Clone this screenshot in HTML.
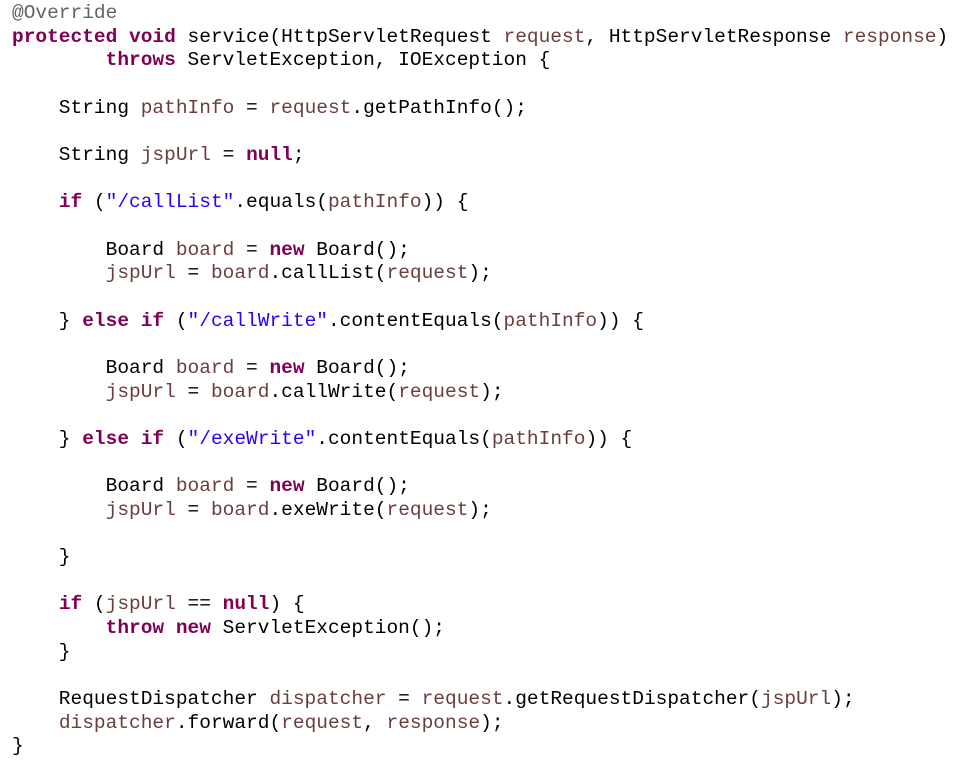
<!DOCTYPE html>
<html><head><meta charset="utf-8"><style>
html,body{margin:0;padding:0;background:#fff;width:960px;height:779px;overflow:hidden}
pre{margin:0;position:absolute;left:12px;top:2px;font-family:"Liberation Mono",monospace;font-size:19.5px;line-height:23.65px;color:#000}
.k{color:#7f0055;font-weight:bold}
.v{color:#6a3e3e}
.s{color:#2a00ff}
.a{color:#646464}
</style></head><body><pre><span class="a">@Override</span>
<span class="k">protected</span> <span class="k">void</span> service(HttpServletRequest <span class="v">request</span>, HttpServletResponse <span class="v">response</span>)
        <span class="k">throws</span> ServletException, IOException {

    String <span class="v">pathInfo</span> = <span class="v">request</span>.getPathInfo();

    String <span class="v">jspUrl</span> = <span class="k">null</span>;

    <span class="k">if</span> (<span class="s">"/callList"</span>.equals(<span class="v">pathInfo</span>)) {

        Board <span class="v">board</span> = <span class="k">new</span> Board();
        <span class="v">jspUrl</span> = <span class="v">board</span>.callList(<span class="v">request</span>);

    } <span class="k">else</span> <span class="k">if</span> (<span class="s">"/callWrite"</span>.contentEquals(<span class="v">pathInfo</span>)) {

        Board <span class="v">board</span> = <span class="k">new</span> Board();
        <span class="v">jspUrl</span> = <span class="v">board</span>.callWrite(<span class="v">request</span>);

    } <span class="k">else</span> <span class="k">if</span> (<span class="s">"/exeWrite"</span>.contentEquals(<span class="v">pathInfo</span>)) {

        Board <span class="v">board</span> = <span class="k">new</span> Board();
        <span class="v">jspUrl</span> = <span class="v">board</span>.exeWrite(<span class="v">request</span>);

    }

    <span class="k">if</span> (<span class="v">jspUrl</span> == <span class="k">null</span>) {
        <span class="k">throw</span> <span class="k">new</span> ServletException();
    }

    RequestDispatcher <span class="v">dispatcher</span> = <span class="v">request</span>.getRequestDispatcher(<span class="v">jspUrl</span>);
    <span class="v">dispatcher</span>.forward(<span class="v">request</span>, <span class="v">response</span>);
}</pre></body></html>
